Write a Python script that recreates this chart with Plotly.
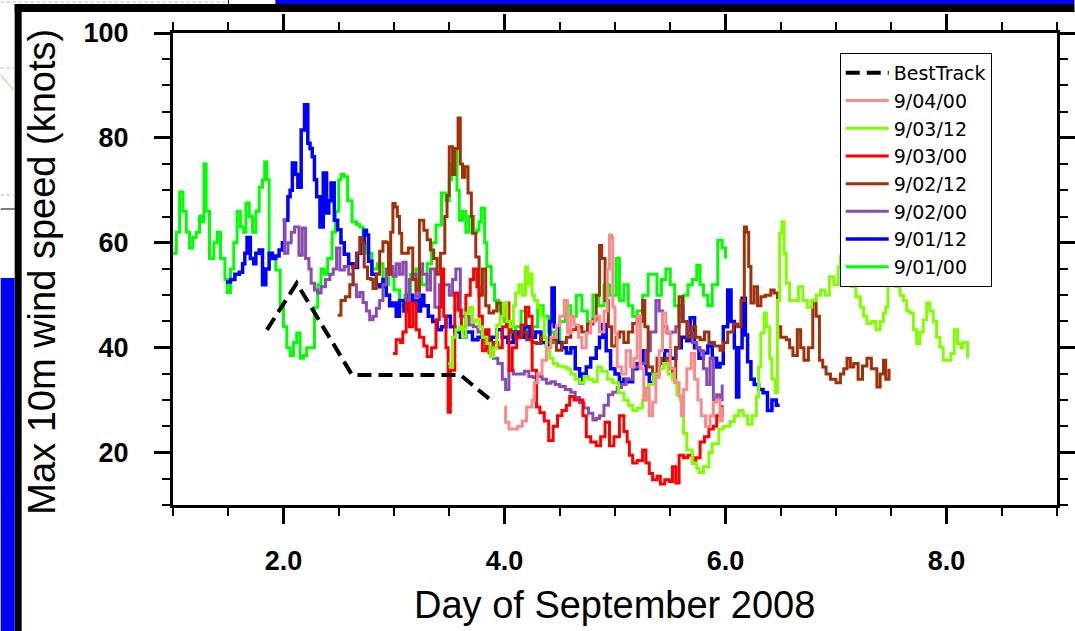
import plotly.graph_objects as go

# ---------------- data ----------------
bt_x = [1.85, 2.12, 2.62, 3.60, 3.87]
bt_y = [43.4, 52.3, 34.8, 34.8, 30.1]

g0_x = [1.00,1.03,1.06,1.09,1.12,1.15,1.18,1.21,1.24,1.26,1.28,1.30,1.33,1.37,1.40,1.43,1.47,1.49,1.52,1.55,
        1.58,1.61,1.64,1.66,1.69,1.72,1.75,1.78,1.81,1.83,1.85,1.87,1.90,1.93,1.97,2.00,2.03,2.06,2.09,2.12,
        2.15,2.18,2.21,2.24,2.27,2.28,2.31,2.34,2.37,2.40,2.44,2.47,2.50,2.52,2.55,2.58,2.62,2.66,2.69,2.72,
        2.75,2.80,2.85,2.90,2.95,3.00,3.05,3.10,3.15,3.20,3.25,3.30,3.34,3.38,3.43,3.47,3.50,3.52,3.55,3.57,
        3.59,3.62,3.65,3.68,3.72,3.75,3.77,3.79,3.82,3.84,3.88,3.91,3.95,4.00,4.05,4.10,4.15,4.20,4.25,4.30,
        4.35,4.40,4.45,4.50,4.55,4.60,4.65,4.70,4.75,4.80,4.85,4.90,4.95,5.01,5.04,5.08,5.12,5.16,5.20,5.25,
        5.30,5.34,5.38,5.42,5.46,5.50,5.54,5.58,5.62,5.66,5.70,5.74,5.77,5.80,5.84,5.88,5.93,5.97,6.00]
g0_y = [58,62,69.7,66,62,59,61,62,65,64,75,66,57,60,62,57,53,50.5,55,60,
        66,63,62,67.6,65,62,66,70.6,72,75.4,72,58,57,54.8,48,44,40,38.5,41,42.8,
        38,38.5,40,40,40,47.7,52,55,54,57,62,66,72,73,72.6,68,64,63.5,63,60,
        58,55,56,52,54,51,48,50,54,55,52,56,60,63.4,69.5,68,72,75,77.7,70,
        64.3,66,62,65,62,62.4,64,66.6,60,55.5,52,49,47,45,42,44,47,42,44,48,
        46,43,41,45,48,46,50,47,45,50,48,52,50,57,49,52,48,46,47,50,
        54,54,50,53,55,52,48,46,50,52,53,55.7,52,50,48,52,60.5,59,57]

b1_x = [1.48,1.52,1.56,1.60,1.63,1.65,1.67,1.70,1.73,1.75,1.78,1.81,1.84,1.87,1.90,1.93,1.96,1.99,2.01,2.04,
        2.06,2.08,2.11,2.13,2.16,2.19,2.22,2.24,2.26,2.28,2.30,2.33,2.36,2.39,2.41,2.43,2.46,2.49,2.52,2.55,
        2.59,2.63,2.67,2.70,2.73,2.75,2.77,2.80,2.84,2.87,2.90,2.93,2.96,2.99,3.02,3.05,3.09,3.13,3.17,3.21,
        3.24,3.27,3.31,3.35,3.39,3.43,3.47,3.51,3.55,3.60,3.65,3.71,3.76,3.80,3.84,3.88,3.93,3.98,4.03,4.08,
        4.13,4.18,4.23,4.28,4.33,4.38,4.41,4.43,4.45,4.48,4.52,4.56,4.60,4.64,4.68,4.71,4.74,4.78,4.83,4.86,
        4.89,4.92,4.96,5.00,5.04,5.08,5.12,5.16,5.20,5.25,5.28,5.31,5.35,5.40,5.45,5.50,5.55,5.60,5.65,5.68,
        5.72,5.76,5.80,5.84,5.88,5.92,5.95,5.98,6.02,6.05,6.08,6.10,6.12,6.15,6.18,6.20,6.23,6.26,6.30,6.34,
        6.38,6.42,6.46,6.49]
b1_y = [52.5,53,54,54.4,56,58,61,57,56,58,58.6,52,55,58,57,57.5,58.6,60,64.3,68.8,
        70,75.2,73,70.6,81.5,86.3,79,78,76.4,72,68.8,63,73.3,65.7,68,71.4,64.3,62.5,60,57.8,
        56,55.3,58,60,62.4,61.5,56.5,54,52,51.6,53,50,48,48.5,46,49,47,50,49,47,
        50,48,46,45,43.4,44,46,44,43,42,43,41.5,42,43,40,42,43.4,42,41,43,
        42,44,42,43,41,40.3,45,51.4,44,41,40,39,40,36,33.3,35,36.3,38,40,42,
        44.4,39.4,36,35,33.3,34,33.5,36,37,39.4,35,33.3,35,37,39.4,38,40,42,41.3,45.7,
        40,38,39,40.3,38,36.3,37,44,51,45,40,30.6,40,49.4,42.4,37.3,34,33,32,31.4,
        28,30,29,29]

p0_x = [1.99,2.01,2.04,2.07,2.10,2.12,2.14,2.17,2.20,2.23,2.25,2.28,2.31,2.34,2.38,2.42,2.45,2.48,2.51,2.55,
        2.59,2.63,2.66,2.69,2.72,2.75,2.78,2.81,2.84,2.87,2.90,2.93,2.96,2.99,3.02,3.05,3.08,3.11,3.14,3.17,
        3.20,3.23,3.26,3.30,3.33,3.37,3.41,3.46,3.50,3.53,3.56,3.60,3.64,3.68,3.72,3.76,3.80,3.84,3.87,3.90,
        3.94,3.98,4.01,4.04,4.08,4.13,4.18,4.22,4.26,4.30,4.34,4.38,4.42,4.46,4.50,4.55,4.60,4.64,4.68,4.72,
        4.76,4.80,4.83,4.86,4.90,4.94,4.98,5.02,5.06,5.10,5.16,5.22,5.28,5.32,5.37,5.40,5.43,5.47,5.51,5.55,
        5.58,5.62,5.66,5.70,5.74,5.77,5.80,5.83,5.86,5.89,5.92,5.95,5.97]
p0_y = [64.3,58,60,62,63,63,57.6,62.8,57,55,52.3,51,50.4,51.6,53,54,55,59,54.8,55.5,
        54,52,49.7,50.5,48.6,47,45.3,46,47.5,49,52,55,55.5,53.6,56,54,56.3,49,53,54,
        49.7,56,54,51,55,47.7,52,52,50,53,55,46,46,44.3,44,43,42,41,40.4,38,
        37,34,32,35.7,35,35,35.5,34.5,34.3,34.5,34,33.2,33.5,33,32.6,32,31.5,30.5,29.5,28.5,
        27.5,26.2,26.5,27,29,31,31.5,32.4,33,34,36.3,37,39.4,43,49,47,44,42.8,43,44,
        48,45,42.8,41,40,39.4,36,33,38,30,31,30,33]

r2_x = [2.49,2.52,2.56,2.60,2.63,2.66,2.69,2.71,2.73,2.76,2.79,2.81,2.84,2.87,2.90,2.93,2.95,2.97,2.99,3.01,
        3.03,3.05,3.07,3.10,3.13,3.17,3.20,3.23,3.25,3.27,3.30,3.33,3.36,3.39,3.42,3.46,3.48,3.50,3.53,3.55,
        3.58,3.60,3.62,3.64,3.67,3.70,3.71,3.74,3.77,3.80,3.83,3.86,3.90,3.93,3.97,4.02,4.06,4.10,4.15,4.20,
        4.25,4.29,4.33,4.38,4.43,4.47,4.52,4.56,4.60,4.65,4.70,4.75,4.80,4.83,4.86,4.88,4.91,4.94,4.97,5.01,
        5.04,5.08,5.12,5.16,5.20,5.23,5.25,5.27,5.30,5.34,5.38,5.42,5.46,5.49,5.52,5.55,5.58,5.61,5.65,5.69,
        5.73,5.77,5.81,5.85,5.90,5.95,5.98,6.02,6.07,6.11,6.14,6.17,6.19,6.21,6.23,6.26,6.29,6.32,6.36,6.41,
        6.44,6.47,6.50,6.55,6.58,6.61,6.65,6.68,6.71,6.75,6.79,6.82,6.85,6.88,6.91,6.95,7.00,7.04,7.07,7.10,
        7.13,7.16,7.20,7.24,7.28,7.32,7.37,7.40,7.43,7.45,7.48]
r2_y = [46.2,49,49.7,52,55.5,58,61,60,55.4,53.2,53,51.3,54,58.4,60.2,60,54,62,67.5,66.8,
        65,61.8,58,58,59,53,51,64.3,64.3,62.4,60.6,58.6,57,54,58,65,69,78.3,73,78,
        83.8,75,72.5,74.5,69.5,65,61.8,57.3,50,55,48,46.6,47,48.5,46,44.6,43,42,43,41.5,
        41,40.8,42,41,41.5,39.5,41,42,43.4,44,43,44.5,45.3,50,59.5,57,49,44,40.3,42,
        43,41,43,44.6,46,45,49,44,36.3,35,38,37,38,36,34.3,40,49.7,45,42,44,
        42,41.5,43,41,40.3,39.5,41,43,44.5,44,49,63,62,55.5,48.5,51.6,48,49.7,50,51,
        50.4,44,42,41.5,40,38.5,43.4,40,37.6,40,49,46,37.6,36.3,35,34,33.3,35,36,38,
        36.3,37,34,36.5,38,36,32.5,35,37.6,34,36]

r0_x = [2.99,3.02,3.06,3.08,3.11,3.14,3.17,3.20,3.23,3.27,3.30,3.34,3.38,3.41,3.43,3.45,3.47,3.49,3.51,3.55,
        3.58,3.61,3.65,3.69,3.72,3.75,3.77,3.80,3.83,3.86,3.90,3.94,3.98,4.02,4.04,4.07,4.11,4.15,4.19,4.22,
        4.25,4.29,4.32,4.36,4.40,4.44,4.48,4.52,4.56,4.59,4.63,4.68,4.71,4.74,4.78,4.83,4.87,4.91,4.95,4.99,
        5.04,5.08,5.11,5.13,5.16,5.20,5.25,5.28,5.31,5.34,5.38,5.41,5.45,5.49,5.52,5.55,5.58,5.62,5.66,5.70,
        5.73,5.77,5.81,5.85,5.89,5.92,5.97]
r0_y = [38.9,41.5,41,43,48.5,44,48.5,43.4,42,40.3,38.3,40,45.3,47.7,55,46,40,27.7,35.7,50.4,
        47.2,44,50,53,55,51.6,46,39.4,43.4,39,41,40,44,48.5,35.7,40,42,44.3,47.7,46,
        35.7,28.7,27.6,26,22.3,25,27,28,29,30.7,30,30,27,23,22,21.3,23,25.8,21.3,23,
        27,24,22,19.5,18,18.5,20.5,18,16,14.8,15.5,14,14.8,14.5,17.3,14.2,19.5,19,19.5,18,
        19,22,23,24.5,25,27,29]

c2_x = [3.49,3.51,3.53,3.56,3.59,3.62,3.65,3.68,3.71,3.74,3.77,3.80,3.84,3.87,3.90,3.93,3.96,3.99,4.02,4.05,
        4.08,4.10,4.13,4.16,4.19,4.21,4.23,4.25,4.27,4.30,4.33,4.36,4.38,4.41,4.44,4.48,4.52,4.56,4.60,4.64,
        4.68,4.72,4.76,4.80,4.84,4.88,4.93,4.98,5.03,5.08,5.12,5.16,5.20,5.25,5.30,5.35,5.40,5.44,5.48,5.52,
        5.56,5.59,5.62,5.65,5.70,5.74,5.76,5.80,5.85,5.88,5.94,5.98,6.04,6.08,6.12,6.16,6.20,6.24,6.28,6.30,
        6.32,6.35,6.37,6.40,6.42,6.45,6.47,6.49,6.51,6.53,6.55,6.58,6.62,6.66,6.70,6.74,6.78,6.82,6.86,6.90,
        6.94,6.98,7.02,7.04,7.07,7.10,7.14,7.18,7.22,7.25,7.28,7.32,7.36,7.40,7.43,7.45,7.47,7.49,7.51,7.54,
        7.58,7.61,7.64,7.67,7.70,7.73,7.76,7.79,7.82,7.85,7.88,7.91,7.94,7.97,8.01,8.04,8.07,8.10,8.13,8.15,
        8.19]
c2_y = [37,36.3,42,43.4,44,42,46.6,47.7,45,45.3,44,42,40.8,38.3,40,44.3,46,48.5,45,44,
        48,50.4,52,50,55.4,52,54,50,49,47.7,46,42,39.4,38,37,36.5,36.3,36,35,34,
        33.3,34.5,34,33.5,36.3,35.5,34,33.3,31.4,30,29,28,28.5,30,33,35,36,37,35,33.8,
        31,30,23.7,20.5,18,17,16.2,17.3,20,21.7,24.5,25,25.9,27,28,27,25.4,27,30.7,36.3,
        42.8,46.6,44,38,34,31.4,49,61.8,64,58,52.3,49,49,51.6,49,47.7,49,50,51,50,
        53.5,52,55.4,57.4,56,53,51.6,49.7,47.7,46,44.6,45,43.4,45,46.6,47.7,61.5,62,59,51.6,
        50,49,47,46.6,43.4,40.8,43,45.3,48.5,47,45,42,40.1,37.6,37.6,38.9,43.4,40.8,40,41,
        38]

s0_x = [4.00,4.01,4.04,4.08,4.12,4.16,4.20,4.25,4.27,4.30,4.34,4.38,4.42,4.47,4.50,4.54,4.57,4.60,4.63,4.67,
        4.70,4.74,4.78,4.82,4.86,4.90,4.93,4.95,4.97,4.98,5.00,5.02,5.06,5.10,5.14,5.17,5.20,5.23,5.26,5.28,
        5.31,5.34,5.37,5.40,5.43,5.46,5.50,5.54,5.58,5.60,5.62,5.65,5.69,5.72,5.75,5.78,5.82,5.86,5.89,5.92,
        5.95,5.97]
s0_y = [28.7,25.8,24.5,24.5,25,26,28.7,30,33.3,35,37.6,40,42,44.2,46,49,42.8,46,44.3,42,
        40,42.8,45,46,43,47,55,61.5,61,47.7,42.8,36.3,35,39.4,36.3,38,46,36,30,32.3,
        27,29.6,34.3,39.4,46.6,43,36,33.3,30.7,27,32,36,38.9,34,30,27,24.9,27,29.6,30,
        26,28.7]

# draw order (first = bottom); legend is shown reversed
series = [
    ("9/01/00", g0_x, g0_y, "#00FF00", 3),
    ("9/01/12", b1_x, b1_y, "#0000FF", 3.5),
    ("9/02/00", p0_x, p0_y, "#8A4CB0", 3),
    ("9/02/12", r2_x, r2_y, "#A0320A", 3),
    ("9/03/00", r0_x, r0_y, "#FF0000", 3),
    ("9/03/12", c2_x, c2_y, "#80FF00", 3),
    ("9/04/00", s0_x, s0_y, "#F88C8C", 3),
]

FONT = "Liberation Sans, Arial, Helvetica, sans-serif"
LEGFONT = "DejaVu Sans, Liberation Sans, sans-serif"

fig = go.Figure()
for name, xs, ys, col, w in series:
    fig.add_trace(go.Scatter(x=xs, y=ys, mode="lines", name=name,
                             line=dict(color=col, width=w, shape="hv")))
fig.add_trace(go.Scatter(x=bt_x, y=bt_y, mode="lines", name="BestTrack",
                         line=dict(color="black", width=4, dash="14px,7px")))

# plot-area geometry (pixels)
L, R, T, B = 172.5, 1057.5, 33, 505
W, H = R - L, B - T
def px(x):  # pixel -> paper x
    return (x - L) / W
def py(y):  # pixel -> paper y
    return (B - y) / H

shapes = []
def rect(x0, y0, x1, y1, color):
    shapes.append(dict(type="rect", xref="paper", yref="paper",
                       x0=px(x0), x1=px(x1), y0=py(y1), y1=py(y0),
                       fillcolor=color, line=dict(width=0), layer="above"))
def line(x0, y0, x1, y1, color, width=1, dash=None):
    d = dict(type="line", xref="paper", yref="paper",
             x0=px(x0), x1=px(x1), y0=py(y0), y1=py(y1),
             line=dict(color=color, width=width), layer="above")
    if dash:
        d["line"]["dash"] = dash
    shapes.append(d)

# slide decorations around the chart
line(0, 2, 225, 2, "#B0B0B0", 1, "dot")
line(228, 0, 228, 5, "black", 1)
rect(275, 0, 1075, 4, "#0000FF")
rect(14, 4, 1075, 12, "black")
rect(14, 4, 21, 631, "black")
line(0, 68, 14, 68, "#B0B0B0", 1, "dot")
line(0, 195, 14, 195, "#B0B0B0", 1, "dot")
line(0, 75, 13, 90, "#F0A060", 1)
line(0, 209, 14, 209, "black", 1)
rect(0, 278, 14, 631, "#0000FF")

axis_common = dict(showgrid=False, zeroline=False, showline=True, linecolor="black",
                   linewidth=3, ticks="outside", ticklen=16, tickwidth=2.5,
                   tickcolor="black", mirror="allticks", automargin=False,
                   tickfont=dict(family=FONT, size=27, color="black", weight="bold"))

fig.update_xaxes(range=[1, 9], tickvals=[2, 4, 6, 8], ticktext=["2.0", "4.0", "6.0", "8.0"],
                 minor=dict(ticks="outside", ticklen=8, tickwidth=2, tickcolor="black", dtick=0.5),
                 ticklabelstandoff=14, **axis_common)
fig.update_yaxes(range=[10, 100], tickvals=[20, 40, 60, 80, 100],
                 minor=dict(ticks="outside", ticklen=8, tickwidth=2, tickcolor="black", dtick=5),
                 ticklabelstandoff=20, **axis_common)

fig.update_layout(
    width=1075, height=631,
    margin=dict(l=L, r=1075 - R, t=T, b=631 - B, pad=0, autoexpand=False),
    paper_bgcolor="white", plot_bgcolor="white",
    showlegend=True,
    legend=dict(x=px(840), y=py(53), xanchor="left", yanchor="top",
                traceorder="reversed", bgcolor="white", bordercolor="black",
                borderwidth=1, font=dict(family=LEGFONT, size=19, color="black"),
                tracegroupgap=0, itemwidth=43),
    shapes=shapes,
    annotations=[
        dict(text="Max 10m wind speed (knots)", xref="paper", yref="paper",
             x=px(41), y=py(272), textangle=-90, showarrow=False,
             xanchor="center", yanchor="middle",
             font=dict(family=FONT, size=38, color="black")),
        dict(text="Day of September 2008", xref="paper", yref="paper",
             x=px(614), y=py(605), showarrow=False, xanchor="center", yanchor="middle",
             font=dict(family=FONT, size=38, color="black")),
    ],
)

fig.write_html("out.html")
